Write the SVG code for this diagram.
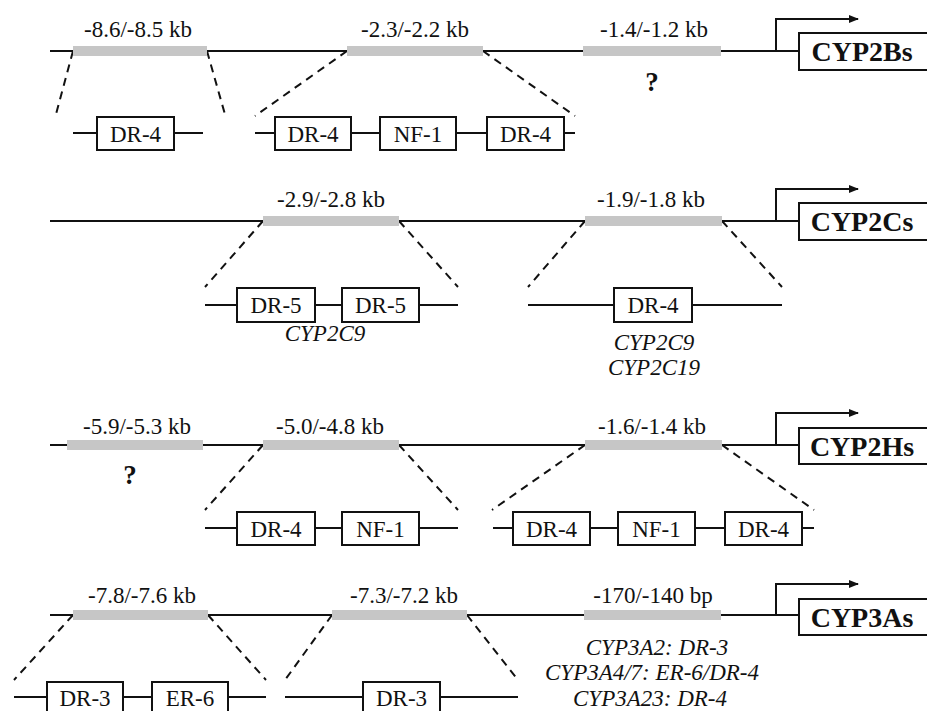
<svg xmlns="http://www.w3.org/2000/svg" width="927" height="711" viewBox="0 0 927 711">
<style>
  .ln{stroke:#111;stroke-width:2;fill:none}
  .bar{fill:#c6c6c6;stroke:none}
  .box{fill:#fff;stroke:#111;stroke-width:2}
  .dash{stroke:#111;stroke-width:2;stroke-dasharray:8 6;fill:none}
  .t{font-family:'Liberation Serif','Times New Roman',serif;font-size:23px;fill:#111;text-anchor:middle}
  .i{font-style:italic}
  .q{font-weight:bold;font-size:27px}
  .g{font-family:'Liberation Serif','Times New Roman',serif;font-size:28px;font-weight:bold;fill:#111;text-anchor:middle}
</style>
<defs>
  <marker id="ah" markerWidth="10" markerHeight="10" refX="9" refY="5" orient="auto" markerUnits="userSpaceOnUse">
    <path d="M0,1 L10,5 L0,9 Z" fill="#111"/>
  </marker>
</defs>
<rect width="927" height="711" fill="#fff"/>

<g id="mainlines">
  <line class="ln" x1="50" y1="51" x2="799" y2="51"/>
  <line class="ln" x1="50" y1="221" x2="799" y2="221"/>
  <line class="ln" x1="50" y1="445" x2="799" y2="445"/>
  <line class="ln" x1="50" y1="615" x2="799" y2="615"/>
</g>

<g id="connectors">
  <line class="dash" x1="73" y1="51" x2="55" y2="118"/>
  <line class="dash" x1="207" y1="51" x2="226" y2="118"/>
  <line class="dash" x1="347" y1="51" x2="255" y2="116"/>
  <line class="dash" x1="483" y1="51" x2="575" y2="116"/>
  <line class="dash" x1="263" y1="221" x2="205" y2="287"/>
  <line class="dash" x1="399" y1="221" x2="458" y2="287"/>
  <line class="dash" x1="585" y1="221" x2="528" y2="287"/>
  <line class="dash" x1="722" y1="221" x2="782" y2="287"/>
  <line class="dash" x1="263" y1="445" x2="205" y2="510"/>
  <line class="dash" x1="399" y1="445" x2="458" y2="510"/>
  <line class="dash" x1="585" y1="445" x2="492" y2="510"/>
  <line class="dash" x1="722" y1="445" x2="814" y2="510"/>
  <line class="dash" x1="73" y1="615" x2="14" y2="680"/>
  <line class="dash" x1="208" y1="615" x2="266" y2="680"/>
  <line class="dash" x1="332" y1="615" x2="285" y2="680"/>
  <line class="dash" x1="467" y1="615" x2="518" y2="680"/>
  <path class="ln" d="M776,51 V19 H858" marker-end="url(#ah)"/>
  <path class="ln" d="M776,221 V189 H858" marker-end="url(#ah)"/>
  <path class="ln" d="M776,445 V413 H858" marker-end="url(#ah)"/>
  <path class="ln" d="M776,615 V584 H858" marker-end="url(#ah)"/>
</g>

<g id="cyp2bs">
  <g id="r1-bar1"><rect class="bar" x="73" y="46" width="134" height="10"/><text class="t" x="138" y="37">-8.6/-8.5 kb</text></g>
  <g id="r1-bar2"><rect class="bar" x="347" y="46" width="136" height="10"/><text class="t" x="415" y="37">-2.3/-2.2 kb</text></g>
  <g id="r1-bar3"><rect class="bar" x="583" y="46" width="138" height="10"/><text class="t" x="654" y="37">-1.4/-1.2 kb</text><text class="t q" x="652" y="91">?</text></g>
  <g id="r1-gene"><rect class="box" x="799" y="33" width="140" height="37"/><text class="g" x="862" y="61">CYP2Bs</text></g>
  <g id="r1-subA">
    <line class="ln" x1="73" y1="133" x2="203" y2="133"/>
    <rect class="box" x="97" y="117" width="77" height="33"/><text class="t" x="135.5" y="142">DR-4</text>
  </g>
  <g id="r1-subB">
    <line class="ln" x1="255" y1="133" x2="575" y2="133"/>
    <rect class="box" x="275" y="117" width="76" height="33"/><text class="t" x="313" y="142">DR-4</text>
    <rect class="box" x="380" y="117" width="76" height="33"/><text class="t" x="418" y="142">NF-1</text>
    <rect class="box" x="487" y="117" width="77" height="33"/><text class="t" x="525.5" y="142">DR-4</text>
  </g>
</g>

<g id="cyp2cs">
  <g id="r2-bar1"><rect class="bar" x="263" y="216" width="136" height="10"/><text class="t" x="331" y="207">-2.9/-2.8 kb</text></g>
  <g id="r2-bar2"><rect class="bar" x="585" y="216" width="137" height="10"/><text class="t" x="651" y="207">-1.9/-1.8 kb</text></g>
  <g id="r2-gene"><rect class="box" x="799" y="203" width="140" height="37"/><text class="g" x="862" y="231">CYP2Cs</text></g>
  <g id="r2-subA">
    <line class="ln" x1="205" y1="305" x2="458" y2="305"/>
    <rect class="box" x="237" y="288" width="78" height="34"/><text class="t" x="276" y="313">DR-5</text>
    <rect class="box" x="342" y="288" width="77" height="34"/><text class="t" x="380.5" y="313">DR-5</text>
    <text class="t i" x="325" y="341">CYP2C9</text>
  </g>
  <g id="r2-subB">
    <line class="ln" x1="528" y1="305" x2="782" y2="305"/>
    <rect class="box" x="614" y="288" width="78" height="34"/><text class="t" x="653" y="313">DR-4</text>
    <text class="t i" x="654" y="350">CYP2C9</text>
    <text class="t i" x="654" y="375">CYP2C19</text>
  </g>
</g>

<g id="cyp2hs">
  <g id="r3-bar1"><rect class="bar" x="67" y="440" width="136" height="10"/><text class="t" x="137" y="434">-5.9/-5.3 kb</text><text class="t q" x="130" y="484">?</text></g>
  <g id="r3-bar2"><rect class="bar" x="263" y="440" width="136" height="10"/><text class="t" x="330" y="434">-5.0/-4.8 kb</text></g>
  <g id="r3-bar3"><rect class="bar" x="585" y="440" width="137" height="10"/><text class="t" x="652" y="434">-1.6/-1.4 kb</text></g>
  <g id="r3-gene"><rect class="box" x="799" y="428" width="140" height="36"/><text class="g" x="862" y="456">CYP2Hs</text></g>
  <g id="r3-subA">
    <line class="ln" x1="205" y1="528" x2="458" y2="528"/>
    <rect class="box" x="237" y="512" width="78" height="33"/><text class="t" x="276" y="537">DR-4</text>
    <rect class="box" x="342" y="512" width="77" height="33"/><text class="t" x="380.5" y="537">NF-1</text>
  </g>
  <g id="r3-subB">
    <line class="ln" x1="493" y1="528" x2="814" y2="528"/>
    <rect class="box" x="513" y="512" width="77" height="33"/><text class="t" x="551.5" y="537">DR-4</text>
    <rect class="box" x="618" y="512" width="77" height="33"/><text class="t" x="656.5" y="537">NF-1</text>
    <rect class="box" x="725" y="512" width="77" height="33"/><text class="t" x="763.5" y="537">DR-4</text>
  </g>
</g>

<g id="cyp3as">
  <g id="r4-bar1"><rect class="bar" x="73" y="610" width="135" height="10"/><text class="t" x="142" y="603">-7.8/-7.6 kb</text></g>
  <g id="r4-bar2"><rect class="bar" x="332" y="610" width="135" height="10"/><text class="t" x="404" y="603">-7.3/-7.2 kb</text></g>
  <g id="r4-bar3"><rect class="bar" x="584" y="610" width="137" height="10"/><text class="t" x="653" y="603">-170/-140 bp</text>
    <text class="t i" x="657" y="655">CYP3A2: DR-3</text>
    <text class="t i" x="652" y="680">CYP3A4/7: ER-6/DR-4</text>
    <text class="t i" x="650" y="706">CYP3A23: DR-4</text>
  </g>
  <g id="r4-gene"><rect class="box" x="799" y="599" width="140" height="36"/><text class="g" x="862" y="627">CYP3As</text></g>
  <g id="r4-subA">
    <line class="ln" x1="14" y1="697" x2="266" y2="697"/>
    <rect class="box" x="47" y="682" width="76" height="36"/><text class="t" x="85" y="706">DR-3</text>
    <rect class="box" x="152" y="682" width="76" height="36"/><text class="t" x="190" y="706">ER-6</text>
  </g>
  <g id="r4-subB">
    <line class="ln" x1="285" y1="697" x2="518" y2="697"/>
    <rect class="box" x="363" y="682" width="77" height="36"/><text class="t" x="401.5" y="706">DR-3</text>
  </g>
</g>
</svg>
